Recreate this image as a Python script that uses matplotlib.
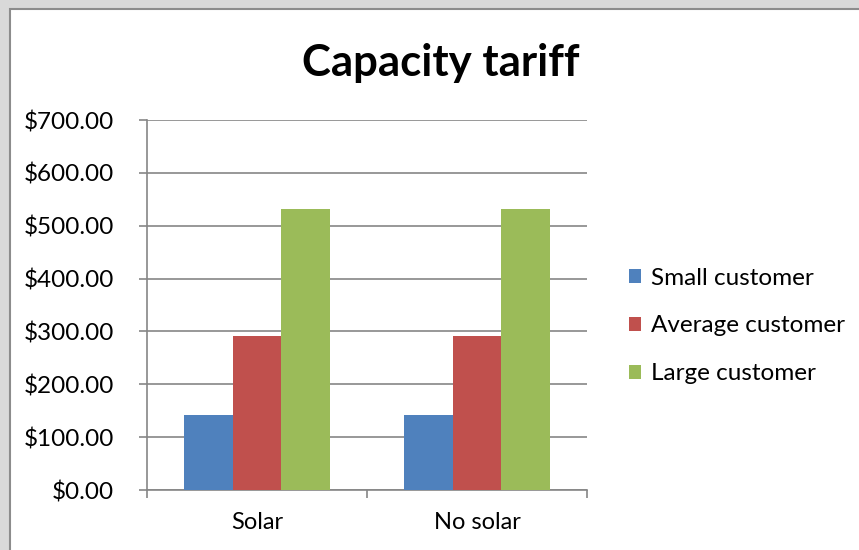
import matplotlib.pyplot as plt
import numpy as np
from matplotlib.patches import Rectangle
from matplotlib.ticker import FuncFormatter

categories = ["Solar", "No solar"]
series_names = ["Small customer", "Average customer", "Large customer"]
small = [141, 141]
average = [292, 292]
large = [532, 532]
colors = ["#4f81bd", "#c0504d", "#9bbb59"]

plt.rcParams["font.family"] = ["Lato", "DejaVu Sans"]

fig = plt.figure(figsize=(8.59, 5.5), dpi=100)
fig.patch.set_facecolor("#d9d9d9")
fig.patches.append(Rectangle((10 / 859, -0.1), 1.1, 1 - 9 / 550 + 0.1,
                             transform=fig.transFigure, facecolor="white",
                             edgecolor="#8c8c8c", linewidth=1.5, zorder=-1))

ax = fig.add_axes([147 / 859, 1 - 490 / 550, 440 / 859, 370 / 550])
ax.set_facecolor("white")

x = np.arange(len(categories))
w = 1 / 4.5
for i, (vals, name) in enumerate(zip([small, average, large], series_names)):
    ax.bar(x + (i - 1) * w, vals, width=w, color=colors[i], label=name, zorder=3)

ax.set_xlim(-0.5, 1.5)
ax.set_ylim(0, 700)
ax.set_yticks(range(0, 701, 100))
ax.yaxis.set_major_formatter(FuncFormatter(lambda v, p: f"${v:,.2f}"))
ax.grid(axis="y", color="#868686", linewidth=1.2, zorder=0)

ax.set_xticks([-0.5, 0.5, 1.5])
ax.set_xticklabels([])
ax.set_xticks(x, minor=True)
ax.set_xticklabels(categories, minor=True)
ax.tick_params(axis="x", which="minor", length=0, labelsize=17, pad=16)
ax.tick_params(axis="x", which="major", length=6, width=1.2, color="#868686")
ax.tick_params(axis="y", length=6, width=1.2, color="#868686", labelsize=17.5, pad=18)

for s in ["top", "right"]:
    ax.spines[s].set_visible(False)
for s in ["left", "bottom"]:
    ax.spines[s].set_color("#868686")
    ax.spines[s].set_linewidth(1.2)

fig.text(441 / 859, 1 - 63 / 550, "Capacity tariff", ha="center", va="center",
         fontsize=31.5, fontweight="bold")

fig.legend(loc="center left", bbox_to_anchor=(607 / 859, 1 - 326 / 550),
           frameon=False, fontsize=17.5, handlelength=0.5, handleheight=0.5,
           handletextpad=0.4, labelspacing=1.1)

fig.savefig("out.png", dpi=100, facecolor=fig.get_facecolor())
